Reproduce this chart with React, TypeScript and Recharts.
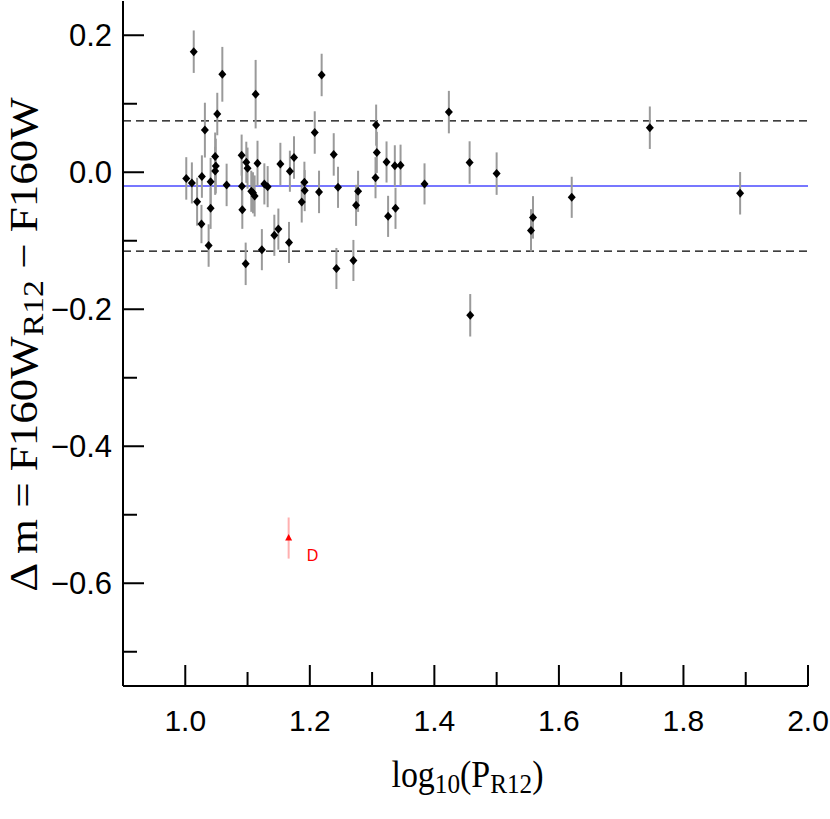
import React from 'react';
import { ScatterChart, Scatter, XAxis, YAxis, ErrorBar, ReferenceLine, Label } from 'recharts';

// log10(P_R12)
const logP = [1.0136, 1.0595, 1.113, 1.0514, 1.0315, 1.048, 1.049, 1.048, 1.0905, 1.098, 1.1, 1.116, 1.1527, 1.168, 1.1746,
  1.0016, 1.0106, 1.019, 1.0267, 1.026, 1.0407, 1.0407, 1.0375, 1.0664, 1.091, 1.0916, 1.097, 1.106, 1.1087, 1.1114,
  1.127, 1.1323, 1.123, 1.143, 1.1495, 1.1666, 1.219, 1.2079, 1.3065, 1.3076, 1.2384, 1.3232, 1.3365, 1.3457, 1.3055,
  1.1913, 1.1918, 1.187, 1.2148, 1.2453, 1.2775, 1.2743, 1.3257, 1.3376, 1.3842, 1.2427, 1.27, 1.4233, 1.4566, 1.5,
  1.5584, 1.5552, 1.4576, 1.6206, 1.746, 1.891];
// Delta m
const deltaM = [0.176, 0.143, 0.114, 0.085, 0.0615, 0.023, 0.009, 0.002, 0.025, 0.0146, 0.006, 0.013, 0.012, 0.0015, 0.0215,
  -0.009, -0.0156, -0.043, -0.0063, -0.0756, -0.014, -0.0527, -0.107, -0.0185, -0.0205, -0.0546, -0.1337, -0.0278, -0.03, -0.0346,
  -0.017, -0.021, -0.113, -0.092, -0.083, -0.1025, 0.142, 0.058, 0.0688, 0.029, 0.026, 0.015, 0.0094, 0.0103, -0.008,
  -0.0146, -0.0268, -0.0434, -0.0287, -0.022, -0.0278, -0.0483, -0.0644, -0.0527, -0.017, -0.1405, -0.1288, 0.0878, 0.0142, -0.002,
  -0.0659, -0.0849, -0.2088, -0.0366, 0.065, -0.0307];
// uncertainty
const deltaErr = [0.031, 0.04, 0.05, 0.031, 0.04, 0.035, 0.04, 0.035, 0.03, 0.03, 0.03, 0.033, 0.031, 0.03, 0.031,
  0.031, 0.03, 0.035, 0.031, 0.028, 0.035, 0.03, 0.031, 0.031, 0.035, 0.028, 0.031, 0.03, 0.03, 0.03,
  0.03, 0.03, 0.03, 0.03, 0.03, 0.03, 0.031, 0.031, 0.03, 0.03, 0.031, 0.03, 0.03, 0.03, 0.03,
  0.03, 0.03, 0.03, 0.031, 0.03, 0.03, 0.03, 0.03, 0.03, 0.03, 0.03, 0.03, 0.031, 0.031, 0.031,
  0.031, 0.031, 0.031, 0.03, 0.031, 0.031];

// outlier "D"
const outlierLogP = [1.166];
const outlierDeltaM = [-0.534];
const outlierErr = [0.03];
const outlierLabels = ['D'];

// reference lines
const meanOffset = -0.02;
const upperBound = 0.075;
const lowerBound = -0.115;

const xTicks = [1.0, 1.1, 1.2, 1.3, 1.4, 1.5, 1.6, 1.7, 1.8, 1.9, 2.0];
const yTicks = [0.2, 0.1, 0.0, -0.1, -0.2, -0.3, -0.4, -0.5, -0.6, -0.7];

const mainData = logP.map((x, i) => ({ x, y: deltaM[i], err: deltaErr[i] }));
const outlierData = outlierLogP.map((x, i) => ({ x, y: outlierDeltaM[i], err: outlierErr[i], label: outlierLabels[i] }));

const SANS = 'Liberation Sans, Arial, Helvetica, sans-serif';
const SERIF = 'Liberation Serif, Times New Roman, Times, serif';
const MAJOR = 21;
const MINOR = 14;

const isMajor = (v: number) => Math.round(v * 10) % 2 === 0;
const fmt = (v: number) => (v < 0 ? '\u2212' : '') + Math.abs(v).toFixed(1);

const BottomTick = (p: any) => {
  const { x, y, payload } = p;
  const v = payload.value;
  const maj = isMajor(v);
  return (
    <g>
      <line x1={x} y1={y} x2={x} y2={y - (maj ? MAJOR : MINOR)} stroke="#000" strokeWidth={2} />
      {maj && (
        <text x={x} y={y + 45} textAnchor="middle" style={{ fontFamily: SANS, fontSize: 30 }} fill="#000">
          {fmt(v)}
        </text>
      )}
    </g>
  );
};
const TopTick = (p: any) => {
  const { x, y, payload } = p;
  const maj = isMajor(payload.value);
  return <line x1={x} y1={y} x2={x} y2={y + (maj ? MAJOR : MINOR)} stroke="#000" strokeWidth={2} />;
};
const LeftTick = (p: any) => {
  const { x, y, payload } = p;
  const v = payload.value;
  const maj = isMajor(v);
  return (
    <g>
      <line x1={x} y1={y} x2={x + (maj ? MAJOR : MINOR)} y2={y} stroke="#000" strokeWidth={2} />
      {maj && (
        <text x={x - 11} y={y + 11} textAnchor="end" style={{ fontFamily: SANS, fontSize: 31 }} fill="#000">
          {fmt(v)}
        </text>
      )}
    </g>
  );
};
const RightTick = (p: any) => {
  const { x, y, payload } = p;
  const maj = isMajor(payload.value);
  return <line x1={x} y1={y} x2={x - (maj ? MAJOR : MINOR)} y2={y} stroke="#000" strokeWidth={2} />;
};

const Diamond = (p: any) => {
  const { cx, cy } = p;
  if (cx == null || cy == null) return <g />;
  return <polygon points={`${cx},${cy - 4.5} ${cx + 4},${cy} ${cx},${cy + 4.5} ${cx - 4},${cy}`} fill="#000" />;
};
const Nothing = () => <g />;
const Triangle = (p: any) => {
  const { cx, cy, payload } = p;
  if (cx == null || cy == null) return <g />;
  return (
    <g>
      <polygon points={`${cx},${cy - 4} ${cx + 3.5},${cy + 2.5} ${cx - 3.5},${cy + 2.5}`} fill="#ff0000" />
      <text x={cx + 18} y={cy + 23} style={{ fontFamily: SANS, fontSize: 16 }} fill="#ff0000">{payload.label}</text>
    </g>
  );
};

const XTitle = (p: any) => {
  const vb = p.viewBox || { x: 123, y: 686, width: 685, height: 133 };
  const cx = vb.x + vb.width / 2;
  return (
    <text transform={`translate(${cx + 2},${vb.y + 101}) scale(0.97,1.08)`} textAnchor="middle" style={{ fontFamily: SERIF, fontSize: 35 }} fill="#000">
      log<tspan dy={6} style={{ fontSize: 26 }}>10</tspan><tspan dy={-6}>(P</tspan><tspan dy={6} style={{ fontSize: 26 }}>R12</tspan><tspan dy={-6}>)</tspan>
    </text>
  );
};
const YTitle = (p: any) => {
  const vb = p.viewBox || { x: 0, y: 1, width: 123, height: 685 };
  const cy = vb.y + vb.height / 2 + 1;
  return (
    <text transform={`translate(37,${cy}) rotate(-90) scale(1.125,1)`} textAnchor="middle" style={{ fontFamily: SERIF, fontSize: 40 }} fill="#000">
      Δ m = F160W<tspan dy={6} style={{ fontSize: 30 }}>R12</tspan><tspan dy={-6}> − F160W</tspan>
    </text>
  );
};

export default function App() {
  return (
    <div style={{ position: 'absolute', left: 0, top: 0, width: 830, height: 819, background: '#fff' }}>
      <ScatterChart width={830} height={819} margin={{ top: 1, right: 22, bottom: 0, left: 0 }}>
        <XAxis
          xAxisId="b"
          type="number"
          dataKey="x"
          domain={[0.9, 2.0]}
          ticks={xTicks}
          interval={0}
          allowDataOverflow
          height={133}
          tickSize={0}
          tickMargin={0}
          tickLine={false}
          axisLine={{ stroke: '#000', strokeWidth: 2 }}
          tick={<BottomTick />}
        >
          <Label content={<XTitle />} />
        </XAxis>
        <XAxis
          xAxisId="t"
          orientation="top"
          type="number"
          dataKey="x"
          domain={[0.9, 2.0]}
          ticks={xTicks}
          interval={0}
          allowDataOverflow
          height={0}
          tickSize={0}
          tickMargin={0}
          tickLine={false}
          axisLine={{ stroke: '#000', strokeWidth: 2 }}
          tick={<TopTick />}
        />
        <YAxis
          yAxisId="l"
          type="number"
          dataKey="y"
          domain={[-0.75, 0.25]}
          ticks={yTicks}
          interval={0}
          allowDataOverflow
          width={123}
          tickSize={0}
          tickMargin={0}
          tickLine={false}
          axisLine={{ stroke: '#000', strokeWidth: 2 }}
          tick={<LeftTick />}
        >
          <Label content={<YTitle />} />
        </YAxis>
        <YAxis
          yAxisId="r"
          orientation="right"
          type="number"
          dataKey="y"
          domain={[-0.75, 0.25]}
          ticks={yTicks}
          interval={0}
          allowDataOverflow
          width={0}
          tickSize={0}
          tickMargin={0}
          tickLine={false}
          axisLine={{ stroke: '#000', strokeWidth: 2 }}
          tick={<RightTick />}
        />
        <ReferenceLine xAxisId="b" yAxisId="l" y={upperBound} stroke="#000" strokeWidth={1.3} strokeDasharray="8 5" />
        <ReferenceLine xAxisId="b" yAxisId="l" y={lowerBound} stroke="#000" strokeWidth={1.3} strokeDasharray="8 5" />
        <ReferenceLine xAxisId="b" yAxisId="l" y={meanOffset} stroke="#4a4aff" strokeWidth={1.5} />
        <Scatter xAxisId="b" yAxisId="l" data={mainData} shape={<Nothing />} isAnimationActive={false}>
          <ErrorBar dataKey="err" direction="y" width={0} stroke="#9a9a9a" strokeWidth={2} isAnimationActive={false} />
        </Scatter>
        <Scatter xAxisId="b" yAxisId="l" data={outlierData} shape={<Nothing />} isAnimationActive={false}>
          <ErrorBar dataKey="err" direction="y" width={0} stroke="#ffb0b0" strokeWidth={2} isAnimationActive={false} />
        </Scatter>
        <Scatter xAxisId="b" yAxisId="l" data={mainData} shape={<Diamond />} isAnimationActive={false} />
        <Scatter xAxisId="b" yAxisId="l" data={outlierData} shape={<Triangle />} isAnimationActive={false} />
      </ScatterChart>
    </div>
  );
}
